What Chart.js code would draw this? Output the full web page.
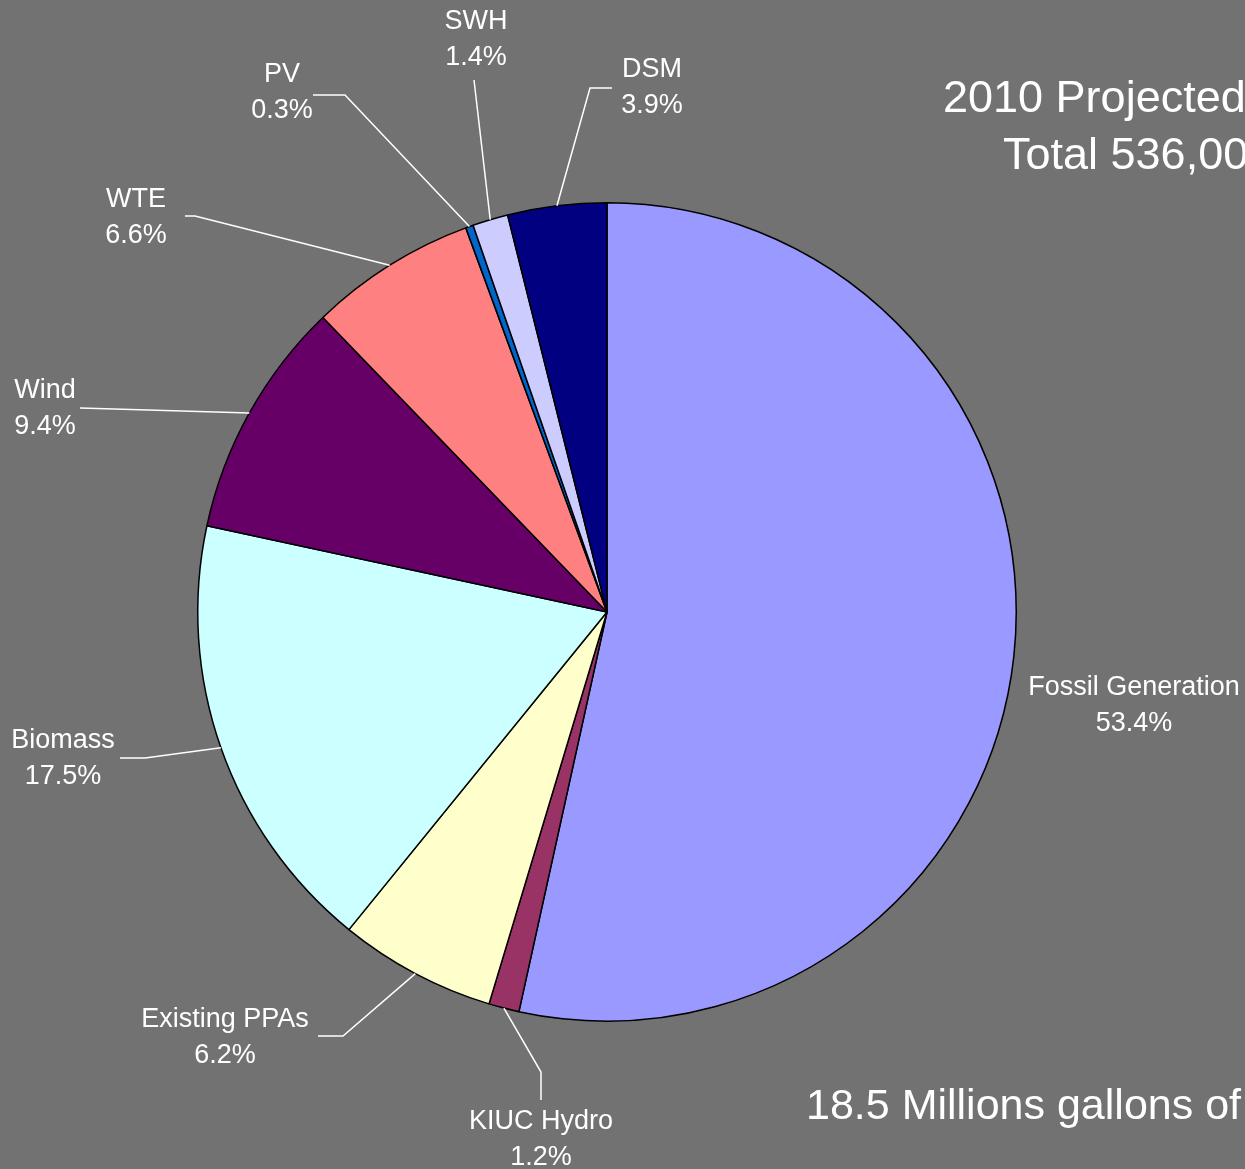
<!DOCTYPE html>
<html>
<head>
<meta charset="utf-8">
<script src="https://cdn.jsdelivr.net/npm/chart.js@4/dist/chart.umd.min.js"></script>
<style>
  html, body { margin: 0; padding: 0; background: #727272; }
  #wrap { position: relative; width: 1245px; height: 1169px; overflow: hidden; }
</style>
</head>
<body>
<div id="wrap"><canvas id="pie" width="1245" height="1169"></canvas></div>
<script>
// categories and values (percent), clockwise from 12 o'clock
var labels = ["Fossil Generation", "KIUC Hydro", "Existing PPAs", "Biomass", "Wind", "WTE", "PV", "SWH", "DSM"];
var values = [53.4, 1.2, 6.2, 17.5, 9.4, 6.6, 0.3, 1.4, 3.9];
var colors = ["#9999FF", "#993366", "#FFFFCC", "#CCFFFF", "#660066", "#FF8080", "#0066CC", "#CCCCFF", "#000080"];

// where each label sits: text centre, elbow of the leader line, end of the leader line
var labelPos = [
    { tx: 1134, ty: 688, line: null },
    { tx: 541, ty: 1122, line: [[541, 1072], [541, 1100]] },
    { tx: 225, ty: 1020, line: [[343, 1036], [318, 1036]] },
    { tx: 63, ty: 741, line: [[145, 758], [120, 758]] },
    { tx: 45, ty: 391, line: [[80, 408]] },
    { tx: 136, ty: 200, line: [[195, 216], [185, 216]] },
    { tx: 282, ty: 75, line: [[345, 95], [313, 95]] },
    { tx: 476, ty: 22, line: [[474, 80]] },
    { tx: 652, ty: 70, line: [[590, 88], [612, 88]] }
];

var labelPlugin = {
    id: "sliceLabels",
    afterDraw: function(chart) {
        var ctx = chart.ctx;
        var arcs = chart.getDatasetMeta(0).data;
        ctx.save();
        ctx.strokeStyle = "#ffffff";
        ctx.lineWidth = 1.5;
        ctx.fillStyle = "#ffffff";
        ctx.font = "27px 'Liberation Sans', Arial, sans-serif";
        ctx.textAlign = "center";
        ctx.textBaseline = "middle";
        for (var i = 0; i < arcs.length; i++) {
            var a = arcs[i];
            var p = labelPos[i];
            if (p.line) {
                var mid = (a.startAngle + a.endAngle) / 2;
                var sx = a.x + Math.cos(mid) * a.outerRadius;
                var sy = a.y + Math.sin(mid) * a.outerRadius;
                ctx.beginPath();
                ctx.moveTo(sx, sy);
                p.line.forEach(function(pt) { ctx.lineTo(pt[0], pt[1]); });
                ctx.stroke();
            }
            ctx.fillText(labels[i], p.tx, p.ty);
            ctx.fillText(values[i].toFixed(1) + "%", p.tx, p.ty + 36);
        }
        // titles, cut off at the right edge as in the original slide
        ctx.textAlign = "left";
        ctx.font = "45px 'Liberation Sans', Arial, sans-serif";
        ctx.fillText("2010 Projected", 943, 100);
        ctx.fillText("Total 536,00", 1003, 157);
        ctx.font = "43px 'Liberation Sans', Arial, sans-serif";
        ctx.fillText("18.5 Millions gallons of", 806, 1107);
        ctx.restore();
    }
};

new Chart(document.getElementById("pie"), {
    type: "pie",
    data: {
        labels: labels,
        datasets: [{
            data: values,
            backgroundColor: colors,
            borderColor: "#000000",
            borderWidth: 1.5
        }]
    },
    options: {
        responsive: false,
        animation: false,
        layout: { padding: { left: 197, right: 228, top: 202, bottom: 147 } },
        plugins: {
            legend: { display: false },
            tooltip: { enabled: false }
        }
    },
    plugins: [labelPlugin]
});
</script>
</body>
</html>
